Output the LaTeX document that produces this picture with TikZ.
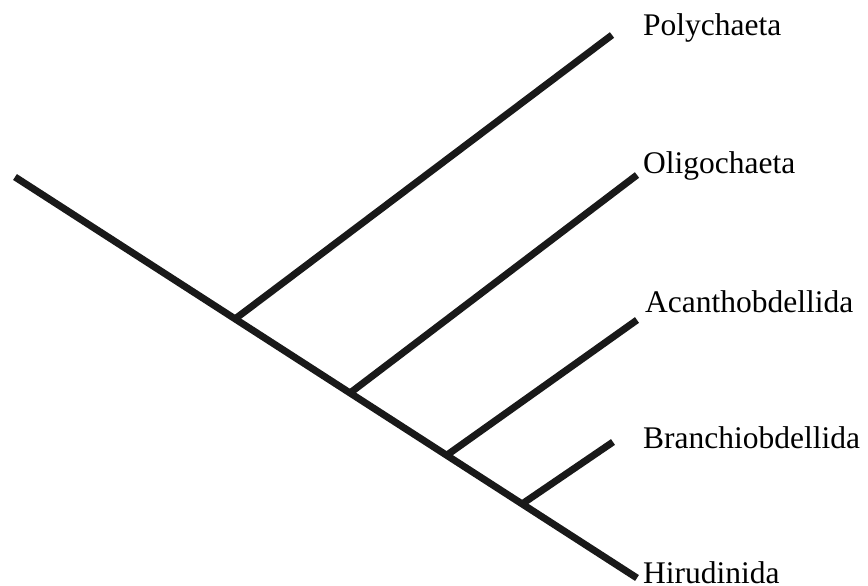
\documentclass[tikz,border=0pt]{standalone}
\usepackage{fontspec}
\setmainfont{Liberation Serif}
\begin{document}
\begin{tikzpicture}[x=1pt,y=-1pt,
  branch/.style={line width=7pt, line cap=butt, color=black!90},
  taxon/.style={anchor=base west, inner sep=0pt, font=\fontsize{31.5}{31.5}\selectfont}]
\useasboundingbox (0,0) rectangle (868,586);
% main axis
\coordinate (root) at (15,177);
\coordinate (hirtip) at (637,578);
% junctions on main axis
\coordinate (j1) at (235,319);
\coordinate (j2) at (350,393);
\coordinate (j3) at (447,455);
\coordinate (j4) at (522,504);
% tips
\coordinate (t1) at (612,35);
\coordinate (t2) at (637,175);
\coordinate (t3) at (637,320);
\coordinate (t4) at (613,442);
% labels
\node[taxon] (poly) at (643,36) {Polychaeta};
\node[taxon] (olig) at (643,173) {Oligochaeta};
\node[taxon] (acan) at (645,312) {Acanthobdellida};
\node[taxon] (bran) at (643,448) {Branchiobdellida};
\node[taxon] (hiru) at (643,583) {Hirudinida};
% lines
\draw[branch] (root) -- (hirtip);
\draw[branch] (j1) -- (t1);
\draw[branch] (j2) -- (t2);
\draw[branch] (j3) -- (t3);
\draw[branch] (j4) -- (t4);
\end{tikzpicture}
\end{document}
